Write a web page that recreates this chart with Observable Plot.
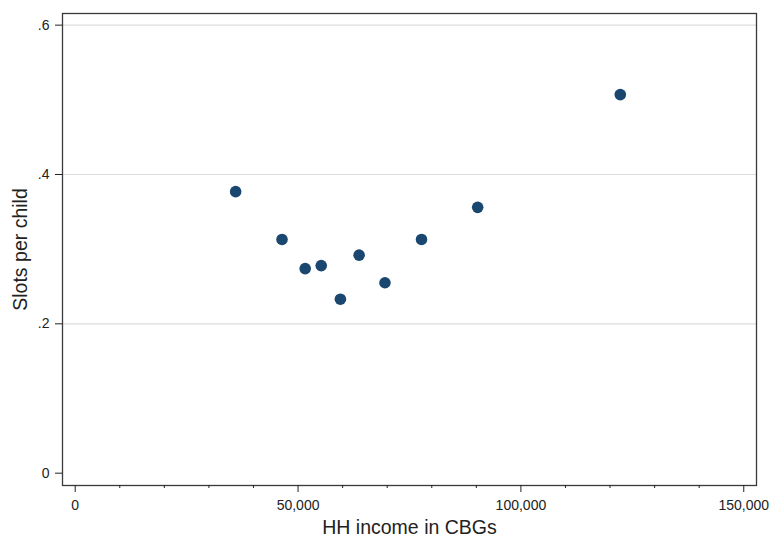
<!DOCTYPE html>
<html>
<head>
<meta charset="utf-8">
<script src="https://cdn.jsdelivr.net/npm/d3@7"></script>
<script src="https://cdn.jsdelivr.net/npm/@observablehq/plot@0.6"></script>
<style>
  html, body { margin: 0; padding: 0; background: #fff; }
  #chart svg { display: block; }
</style>
</head>
<body>
<div id="chart"></div>
<script>
// Mean household income of census block groups vs. child-care slots per child
const income = [36000, 46400, 51600, 55200, 59500, 63700, 69500, 77700, 90300, 122300];
const slots  = [0.377, 0.313, 0.274, 0.278, 0.233, 0.292, 0.255, 0.313, 0.356, 0.507];

const xMajor = [0, 50000, 100000, 150000];
const xMajorLabels = ["0", "50,000", "100,000", "150,000"];
const xMinor = d3.range(0, 150001, 10000).filter(v => !xMajor.includes(v));
const yTicks = [0, 0.2, 0.4, 0.6];
const yTickLabels = ["0", ".2", ".4", ".6"];
const grid = [0.2, 0.4, 0.6];

const xTitle = "HH income in CBGs";
const yTitle = "Slots per child";

const data = income.map((x, i) => ({x, y: slots[i]}));

const chart = Plot.plot({
  width: 774,
  height: 544,
  marginLeft: 62,
  marginRight: 18,
  marginTop: 13,
  marginBottom: 59,
  style: {fontFamily: "'Liberation Sans', Arial, sans-serif", fontSize: "14px", color: "#222", background: "#fff"},
  x: {domain: [-2850, 152860]},
  y: {domain: [-0.0165, 0.6156]},
  marks: [
    Plot.ruleY(grid, {stroke: "#dcdcdc", strokeWidth: 1.2}),
    Plot.frame({stroke: "#3a3a3a", strokeWidth: 1.3}),
    Plot.axisX(xMinor, {tickSize: 3, text: null, label: null, stroke: "#222"}),
    Plot.axisX(xMajor, {tickSize: 7, tickPadding: 8, label: null, stroke: "#222", fill: "#222",
      tickFormat: d => xMajorLabels[xMajor.indexOf(d)]}),
    Plot.axisY(yTicks, {tickSize: 7, tickPadding: 6, label: null, stroke: "#222", fill: "#222",
      tickFormat: d => yTickLabels[yTicks.indexOf(d)]}),
    Plot.dot(data, {x: "x", y: "y", r: 5.8, fill: "#1a476f", stroke: null}),
    Plot.text([xTitle], {frameAnchor: "bottom", dy: 48, fontSize: 19.5, fill: "#222", text: d => d}),
    Plot.text([yTitle], {frameAnchor: "left", textAnchor: "middle", dx: -42, rotate: -90, fontSize: 19.5, fill: "#222", text: d => d})
  ]
});
document.getElementById("chart").appendChild(chart);
</script>
</body>
</html>
